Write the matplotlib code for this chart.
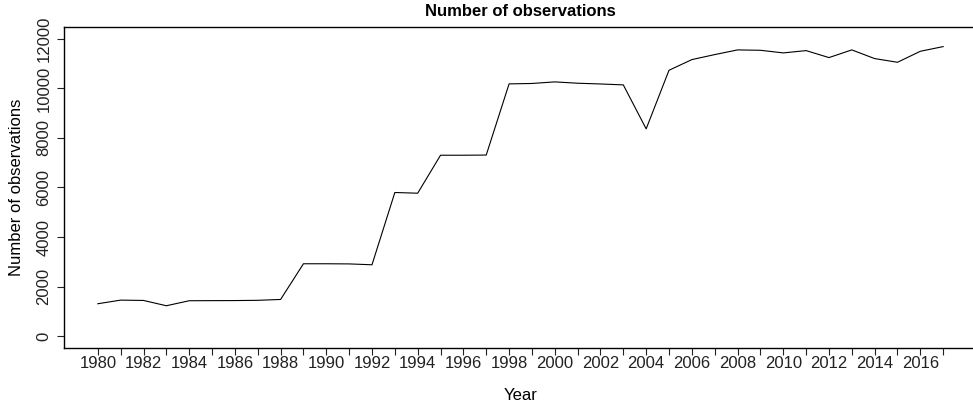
import matplotlib
matplotlib.use("Agg")
import matplotlib.pyplot as plt

years = list(range(1980, 2018))
counts = [1307, 1453, 1440, 1226, 1428, 1432, 1435, 1445, 1480, 2921,
          2921, 2915, 2880, 5798, 5770, 7303, 7303, 7310, 10183, 10200,
          10264, 10210, 10180, 10143, 8368, 10733, 11164, 11366, 11555, 11540,
          11434, 11527, 11245, 11555, 11205, 11056, 11500, 11689]
xtick_labels = [str(y) if y % 2 == 0 and y <= 2016 else "" for y in years]
yticks = [0, 2000, 4000, 6000, 8000, 10000, 12000]

plt.rcParams['font.family'] = ['Liberation Sans', 'DejaVu Sans']

fig = plt.figure(figsize=(9.73, 4.04), dpi=100)
ax = fig.add_axes([64/973, 1 - 348/404, (977-64)/973, (348-27)/404])
ax.plot(years, counts, color='black', linewidth=0.8)
ax.set_xlim(1978.52, 2018.48)
ax.set_ylim(-480, 12480)
ax.set_xticks(years)
ax.set_xticklabels(xtick_labels)
ax.set_yticks(yticks)
ax.set_yticklabels([str(v) for v in yticks], rotation=90, va='center')
ax.tick_params(axis='both', direction='out', length=5, width=0.8, labelsize=12, colors='#222222')
ax.tick_params(axis='x', pad=1)
ax.tick_params(axis='y', pad=4)
ax.spines['right'].set_visible(False)
for s in ax.spines.values():
    s.set_linewidth(1.0)
ax.set_title("Number of observations", fontsize=12, fontweight='bold', pad=8)
ax.set_xlabel("Year", fontsize=12, labelpad=12)
ax.set_ylabel("Number of observations", fontsize=12, labelpad=9)
fig.savefig("out.png", dpi=100)
